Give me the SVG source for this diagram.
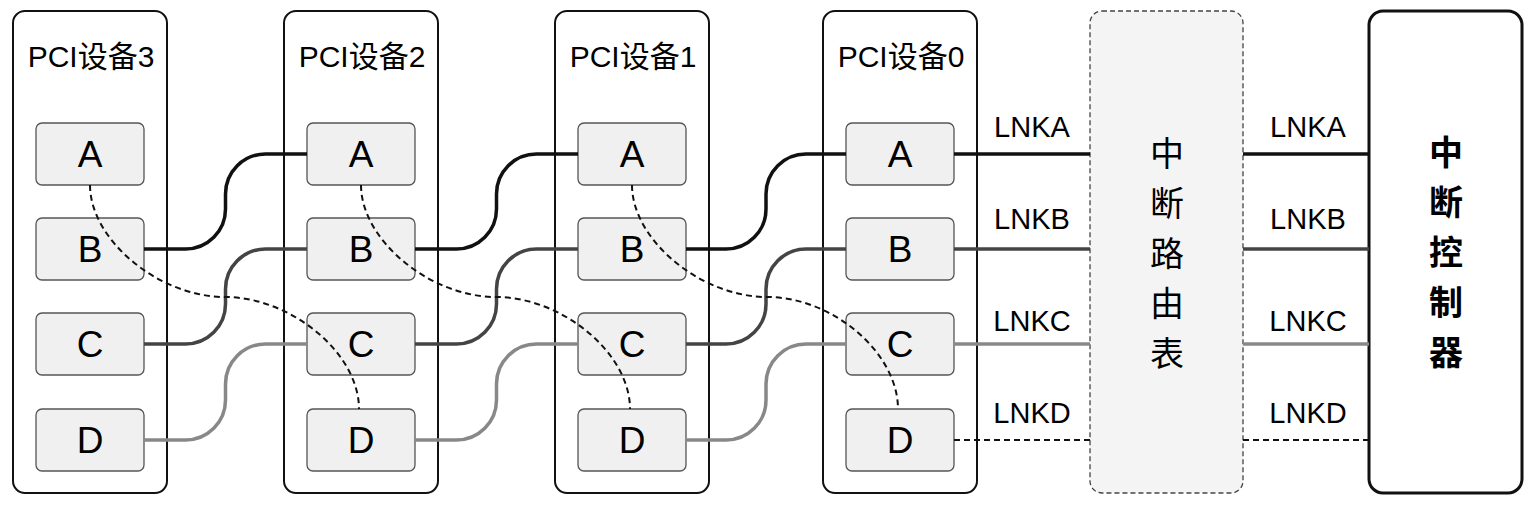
<svg xmlns="http://www.w3.org/2000/svg" width="1538" height="506" viewBox="0 0 1538 506">
<style>
.dev{fill:#fff;stroke:#111;stroke-width:2}
.pin{fill:#f0f0f0;stroke:#555;stroke-width:1.3}
.title{font-family:"Liberation Sans","Noto Sans CJK SC",sans-serif;font-size:30px;fill:#000;text-anchor:middle}
.cjk{font-family:"Noto Sans CJK SC",sans-serif;font-size:30px}
.pl{font-family:"Liberation Sans",sans-serif;font-size:37px;fill:#000;text-anchor:middle}
.lnk{font-family:"Liberation Sans",sans-serif;font-size:29px;fill:#000;text-anchor:middle}
.vt{font-family:"Noto Sans CJK SC",sans-serif;font-size:34px;fill:#000;text-anchor:middle}
.la{fill:none;stroke:#111;stroke-width:3.5}
.lb{fill:none;stroke:#444;stroke-width:3.5}
.lc{fill:none;stroke:#888;stroke-width:3.5}
.ld{fill:none;stroke:#111;stroke-width:2;stroke-dasharray:6 4}
</style>
<g id="dev3"><rect class="dev" x="13" y="11" width="154" height="482" rx="12"/><text class="title" x="91" y="67">PCI<tspan class="cjk">设备</tspan>3</text></g>
<g id="dev2"><rect class="dev" x="284" y="11" width="154" height="482" rx="12"/><text class="title" x="362" y="67">PCI<tspan class="cjk">设备</tspan>2</text></g>
<g id="dev1"><rect class="dev" x="555" y="11" width="154" height="482" rx="12"/><text class="title" x="633" y="67">PCI<tspan class="cjk">设备</tspan>1</text></g>
<g id="dev0"><rect class="dev" x="823" y="11" width="154" height="482" rx="12"/><text class="title" x="901" y="67">PCI<tspan class="cjk">设备</tspan>0</text></g>

<g id="dev3-A"><rect class="pin" x="36" y="123" width="108" height="62" rx="6"/><text class="pl" x="90" y="167">A</text></g>
<g id="dev3-B"><rect class="pin" x="36" y="218" width="108" height="62" rx="6"/><text class="pl" x="90" y="262">B</text></g>
<g id="dev3-C"><rect class="pin" x="36" y="313" width="108" height="62" rx="6"/><text class="pl" x="90" y="357">C</text></g>
<g id="dev3-D"><rect class="pin" x="36" y="409" width="108" height="62" rx="6"/><text class="pl" x="90" y="453">D</text></g>

<g id="dev2-A"><rect class="pin" x="307" y="123" width="108" height="62" rx="6"/><text class="pl" x="361" y="167">A</text></g>
<g id="dev2-B"><rect class="pin" x="307" y="218" width="108" height="62" rx="6"/><text class="pl" x="361" y="262">B</text></g>
<g id="dev2-C"><rect class="pin" x="307" y="313" width="108" height="62" rx="6"/><text class="pl" x="361" y="357">C</text></g>
<g id="dev2-D"><rect class="pin" x="307" y="409" width="108" height="62" rx="6"/><text class="pl" x="361" y="453">D</text></g>

<g id="dev1-A"><rect class="pin" x="578" y="123" width="108" height="62" rx="6"/><text class="pl" x="632" y="167">A</text></g>
<g id="dev1-B"><rect class="pin" x="578" y="218" width="108" height="62" rx="6"/><text class="pl" x="632" y="262">B</text></g>
<g id="dev1-C"><rect class="pin" x="578" y="313" width="108" height="62" rx="6"/><text class="pl" x="632" y="357">C</text></g>
<g id="dev1-D"><rect class="pin" x="578" y="409" width="108" height="62" rx="6"/><text class="pl" x="632" y="453">D</text></g>

<g id="dev0-A"><rect class="pin" x="846" y="123" width="108" height="62" rx="6"/><text class="pl" x="900" y="167">A</text></g>
<g id="dev0-B"><rect class="pin" x="846" y="218" width="108" height="62" rx="6"/><text class="pl" x="900" y="262">B</text></g>
<g id="dev0-C"><rect class="pin" x="846" y="313" width="108" height="62" rx="6"/><text class="pl" x="900" y="357">C</text></g>
<g id="dev0-D"><rect class="pin" x="846" y="409" width="108" height="62" rx="6"/><text class="pl" x="900" y="453">D</text></g>

<g id="router"><rect x="1090" y="11" width="153" height="482" rx="12" fill="#f4f4f4" stroke="#444" stroke-width="1.3" stroke-dasharray="5 3"/>
<text class="vt" x="1167" y="166">中</text><text class="vt" x="1167" y="216">断</text><text class="vt" x="1167" y="266">路</text><text class="vt" x="1167" y="316">由</text><text class="vt" x="1167" y="366">表</text></g>

<g id="controller"><rect x="1369" y="11" width="153" height="482" rx="14" fill="#fff" stroke="#111" stroke-width="3"/>
<g font-weight="bold"><text class="vt" x="1446" y="165">中</text><text class="vt" x="1446" y="215">断</text><text class="vt" x="1446" y="265">控</text><text class="vt" x="1446" y="315">制</text><text class="vt" x="1446" y="365">器</text></g></g>

<g id="connectors">
<path class="la" d="M144,249 H185.5 A40,40 0 0 0 225.5,209 V194 A40,40 0 0 1 265.5,154 H307"/>
<path class="lb" d="M144,344 H185.5 A40,40 0 0 0 225.5,304 V289 A40,40 0 0 1 265.5,249 H307"/>
<path class="lc" d="M144,440 H185.5 A40,40 0 0 0 225.5,400 V384 A40,40 0 0 1 265.5,344 H307"/>

<path class="la" d="M415,249 H456.5 A40,40 0 0 0 496.5,209 V194 A40,40 0 0 1 536.5,154 H578"/>
<path class="lb" d="M415,344 H456.5 A40,40 0 0 0 496.5,304 V289 A40,40 0 0 1 536.5,249 H578"/>
<path class="lc" d="M415,440 H456.5 A40,40 0 0 0 496.5,400 V384 A40,40 0 0 1 536.5,344 H578"/>

<path class="la" d="M686,249 H726 A40,40 0 0 0 766,209 V194 A40,40 0 0 1 806,154 H846"/>
<path class="lb" d="M686,344 H726 A40,40 0 0 0 766,304 V289 A40,40 0 0 1 806,249 H846"/>
<path class="lc" d="M686,440 H726 A40,40 0 0 0 766,400 V384 A40,40 0 0 1 806,344 H846"/>

<path class="ld" d="M90,185 C90,240 159,297 225,297 C291,297 359,353 359,409"/>
<path class="ld" d="M361,185 C361,240 430,297 496,297 C562,297 630,353 630,409"/>
<path class="ld" d="M632,185 C632,240 701,297 767,297 C833,297 898,353 898,409"/>

<path class="la" d="M954,154 H1090"/>
<path class="lb" d="M954,249 H1090"/>
<path class="lc" d="M954,344 H1090"/>
<path class="ld" d="M954,440 H1090"/>

<path class="la" d="M1243,154 H1369"/>
<path class="lb" d="M1243,249 H1369"/>
<path class="lc" d="M1243,344 H1369"/>
<path class="ld" d="M1243,440 H1369"/>

<text class="lnk" x="1032" y="137">LNKA</text>
<text class="lnk" x="1032" y="229">LNKB</text>
<text class="lnk" x="1032" y="331">LNKC</text>
<text class="lnk" x="1032" y="423">LNKD</text>
<text class="lnk" x="1308" y="137">LNKA</text>
<text class="lnk" x="1308" y="229">LNKB</text>
<text class="lnk" x="1308" y="331">LNKC</text>
<text class="lnk" x="1308" y="423">LNKD</text>
</g>
</svg>
